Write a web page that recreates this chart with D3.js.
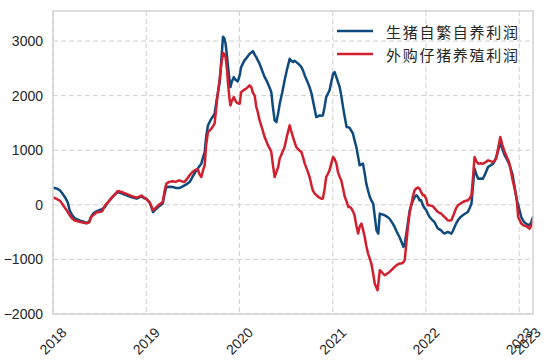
<!DOCTYPE html>
<html><head><meta charset="utf-8">
<script src="https://cdn.jsdelivr.net/npm/d3@7"></script>
<style>html,body{margin:0;padding:0;background:#fff;}svg{display:block;}</style>
</head><body>
<svg id="chart" width="550" height="364"></svg>
<script>
const seriesNames = ["生猪自繁自养利润", "外购仔猪养殖利润"];
const dates = [
"2018-01-01","2018-01-15","2018-01-28","2018-02-06","2018-02-17","2018-02-28","2018-03-07","2018-03-17","2018-03-28","2018-04-08",
"2018-04-15","2018-05-01","2018-05-12","2018-05-23","2018-05-30","2018-06-07","2018-06-20","2018-07-01","2018-07-12","2018-07-23",
"2018-08-07","2018-08-18","2018-08-29","2018-09-12","2018-09-26","2018-10-16","2018-11-03","2018-11-24","2018-12-14","2018-12-24",
"2019-01-01","2019-01-15","2019-01-28","2019-02-06","2019-02-17","2019-03-07","2019-03-14","2019-03-21","2019-04-01","2019-04-15",
"2019-04-26","2019-05-10","2019-05-21","2019-05-31","2019-06-09","2019-06-20","2019-07-01","2019-07-12","2019-07-22","2019-07-29",
"2019-08-05","2019-08-11","2019-08-18","2019-08-24","2019-08-31","2019-09-08","2019-09-13","2019-09-20","2019-09-26","2019-10-05",
"2019-10-16","2019-10-23","2019-10-29","2019-11-03","2019-11-08","2019-11-14","2019-11-17","2019-11-23","2019-11-27","2019-12-02",
"2019-12-10","2019-12-15","2019-12-20","2019-12-26",
"2020-01-02","2020-01-08","2020-01-15","2020-01-21","2020-01-31","2020-02-10","2020-02-17","2020-02-23","2020-03-01","2020-03-07",
"2020-03-13","2020-03-20","2020-03-30","2020-04-09","2020-04-16","2020-04-22","2020-04-29","2020-05-05","2020-05-11","2020-05-18",
"2020-05-25","2020-06-01","2020-06-07","2020-06-17","2020-06-26","2020-07-05","2020-07-16","2020-07-22","2020-07-29","2020-08-04",
"2020-08-11","2020-08-22","2020-08-31","2020-09-07","2020-09-13","2020-09-23","2020-10-02","2020-10-10","2020-10-15","2020-10-22",
"2020-10-28","2020-11-04","2020-11-10","2020-11-17","2020-11-23","2020-11-30","2020-12-06","2020-12-12","2020-12-19","2020-12-26",
"2021-01-02","2021-01-08","2021-01-15","2021-01-21","2021-01-28","2021-02-03","2021-02-10","2021-02-17","2021-02-24","2021-03-03",
"2021-03-08","2021-03-14","2021-03-21","2021-03-27","2021-04-03","2021-04-10","2021-04-16","2021-04-23","2021-04-29","2021-05-06",
"2021-05-12","2021-05-19","2021-05-26","2021-06-01","2021-06-08","2021-06-14","2021-06-21","2021-06-25","2021-06-28","2021-07-04",
"2021-07-13","2021-07-23","2021-08-02","2021-08-11","2021-08-22","2021-08-31","2021-09-09","2021-09-19","2021-09-27","2021-10-05",
"2021-10-10","2021-10-16","2021-10-22","2021-10-29","2021-11-05","2021-11-11","2021-11-17","2021-11-24","2021-11-30","2021-12-07",
"2021-12-13","2021-12-20","2021-12-26",
"2022-01-02","2022-01-08","2022-01-15","2022-01-22","2022-01-28","2022-02-03","2022-02-10","2022-02-17","2022-02-23","2022-03-01",
"2022-03-07","2022-03-14","2022-03-21","2022-03-27","2022-04-03","2022-04-10","2022-04-16","2022-04-23","2022-04-29","2022-05-06",
"2022-05-15","2022-05-25","2022-06-04","2022-06-14","2022-06-21","2022-06-28","2022-07-04","2022-07-10","2022-07-17","2022-07-24",
"2022-08-02","2022-08-12","2022-08-22","2022-09-01","2022-09-10","2022-09-21","2022-09-28","2022-10-03","2022-10-11","2022-10-19",
"2022-10-27","2022-11-05","2022-11-14","2022-11-22","2022-11-29","2022-12-05","2022-12-14","2022-12-21","2022-12-28",
"2023-01-09","2023-01-19","2023-01-29","2023-02-11","2023-02-17","2023-02-24"
];
const selfBred = [
315,300,265,210,140,40,-100,-190,-250,-270,
-285,-310,-335,-300,-220,-160,-120,-100,-80,-40,
60,120,180,234,210,174,140,113,156,120,
113,40,-132,-90,-40,22,200,326,330,326,
310,307,330,357,380,417,509,600,662,710,
754,860,966,1250,1455,1530,1577,1620,1669,1950,
2247,2700,3080,3050,2950,2700,2553,2300,2156,2250,
2339,2300,2278,2260,
2370,2522,2590,2645,2700,2767,2790,2815,2750,2705,
2650,2584,2460,2339,2280,2218,2140,2064,1800,1546,
1515,1680,1852,2060,2278,2470,2675,2640,2613,2640,
2613,2570,2522,2450,2370,2260,2156,2030,1912,1750,
1607,1620,1638,1630,1638,1800,1973,2030,2095,2250,
2401,2430,2339,2250,2156,2000,1790,1600,1424,1420,
1409,1360,1303,1180,1058,880,723,740,754,570,
388,260,143,80,22,-200,-467,-500,-527,-161,
-175,-192,-220,-253,-330,-406,-500,-589,-680,-772,
-700,-527,-330,-101,0,82,140,174,150,82,
82,-9,-60,
-101,-160,-223,-260,-290,-315,-380,-436,-450,-467,
-500,-527,-510,-498,-510,-527,-480,-406,-340,-284,
-230,-192,-160,-132,-60,22,350,662,560,479,
480,479,580,692,720,754,810,875,1000,1149,
1020,906,830,754,660,571,326,120,0,
-223,-310,-350,-375,-320,-223
];
const purchased = [
135,110,75,20,-60,-130,-190,-250,-290,-300,
-310,-330,-340,-320,-230,-190,-140,-130,-120,-20,
60,130,180,255,235,200,165,130,170,130,
110,40,-100,-60,-9,51,250,388,420,430,
420,448,430,417,470,540,600,640,650,560,
509,620,723,1100,1332,1370,1394,1440,1486,1900,
2310,2600,2780,2767,2700,2450,2247,1950,1821,1900,
1973,1920,1880,1860,
1852,2064,2090,2110,2140,2187,2150,2050,2000,1800,
1700,1550,1400,1241,1160,1089,1030,966,740,509,
600,692,850,960,1058,1250,1455,1350,1241,1150,
1058,1000,966,860,754,630,509,350,260,205,
180,150,130,113,113,300,509,560,631,760,
875,840,754,600,509,448,300,143,60,-40,
-40,-60,-120,-192,-380,-527,-400,-344,-450,-589,
-750,-893,-990,-1076,-1260,-1442,-1520,-1565,-1450,-1199,
-1240,-1290,-1260,-1230,-1180,-1138,-1100,-1076,-1076,-1050,
-1000,-700,-406,-150,22,160,265,300,315,296,
234,174,174,
100,-9,-10,-20,-27,-60,-100,-132,-150,-160,
-192,-220,-250,-284,-290,-284,-220,-132,-60,-9,
20,51,70,82,120,174,500,875,800,754,
760,754,780,814,800,783,820,850,1050,1241,
1100,966,870,783,630,479,300,143,-223,
-344,-380,-393,-436,-380,-284
];
const yTicks = [3000, 2000, 1000, 0, -1000, -2000];
const xTickDates = ["2018-01-01","2019-01-01","2020-01-01","2021-01-01","2022-01-01","2023-01-01","2023-02-01"];
const xTickLabels = ["2018","2019","2020","2021","2022","2023","2023"];
const colors = ["#0f4a7f", "#d21f2e"];

const parse = d3.timeParse("%Y-%m-%d");
const dateObjs = dates.map(parse);
const L = 53, R = 533, T = 11, B = 314;
const x = d3.scaleTime().domain([parse("2018-01-01"), parse("2023-02-24")]).range([L, R]);
const y = d3.scaleLinear().domain([-2000, 3550]).range([B, T]);

const svg = d3.select("#chart");
const grid = svg.append("g");
const gridColor = "#cfcfcf";
// vertical grid at year boundaries
grid.selectAll("line.v").data(x.ticks(d3.timeYear)).join("line")
  .attr("x1", d => x(d)).attr("x2", d => x(d)).attr("y1", T).attr("y2", B)
  .attr("stroke", gridColor).attr("stroke-width", 1).attr("stroke-dasharray", "5,3");
grid.selectAll("line.h").data(yTicks).join("line")
  .attr("x1", L).attr("x2", R).attr("y1", d => y(d)).attr("y2", d => y(d))
  .attr("stroke", gridColor).attr("stroke-width", 1).attr("stroke-dasharray", "5,3");

svg.append("defs").append("clipPath").attr("id", "clip").append("rect")
  .attr("x", L).attr("y", T).attr("width", R - L).attr("height", B - T);

const line = d3.line().x((d, i) => x(dateObjs[i])).y(d => y(d));
const lines = svg.append("g").attr("clip-path", "url(#clip)");
[selfBred, purchased].forEach((s, k) => {
  lines.append("path").datum(s).attr("d", line)
    .attr("fill", "none").attr("stroke", colors[k]).attr("stroke-width", 2.5)
    .attr("stroke-linejoin", "round").attr("stroke-linecap", "round");
});

// frame
svg.append("rect").attr("x", L).attr("y", T).attr("width", R - L).attr("height", B - T)
  .attr("fill", "none").attr("stroke", "#d2d2d2").attr("stroke-width", 1.5);

// y axis labels
const fmt = v => (v < 0 ? "\u2212" + Math.abs(v) : String(v));
svg.append("g").selectAll("text").data(yTicks).join("text")
  .attr("x", 43).attr("y", d => y(d)).attr("text-anchor", "end").attr("dominant-baseline", "central")
  .attr("font-family", "Liberation Sans, Arial, sans-serif").attr("font-size", 14).attr("fill", "#262626")
  .text(fmt);

// x axis labels (rotated 45°, bbox centered on tick)
svg.append("g").selectAll("text").data(xTickDates).join("text")
  .attr("transform", d => `translate(${x(parse(d))},341) rotate(-45)`)
  .attr("text-anchor", "middle").attr("dominant-baseline", "central")
  .attr("font-family", "Liberation Sans, Arial, sans-serif").attr("font-size", 14).attr("fill", "#262626")
  .text((d, i) => xTickLabels[i]);

// legend
const lg = svg.append("g");
seriesNames.forEach((n, i) => {
  const yy = 31 + i * 23;
  lg.append("line").attr("x1", 337).attr("x2", 373).attr("y1", yy).attr("y2", yy)
    .attr("stroke", colors[i]).attr("stroke-width", 2.5);
  lg.append("text").attr("x", 386).attr("y", yy).attr("dominant-baseline", "central")
    .attr("font-family", "Noto Sans CJK SC, sans-serif").attr("font-size", 15).attr("fill", "#262626")
    .attr("textLength", 132).attr("lengthAdjust", "spacing")
    .text(n);
});
</script>
</body></html>
